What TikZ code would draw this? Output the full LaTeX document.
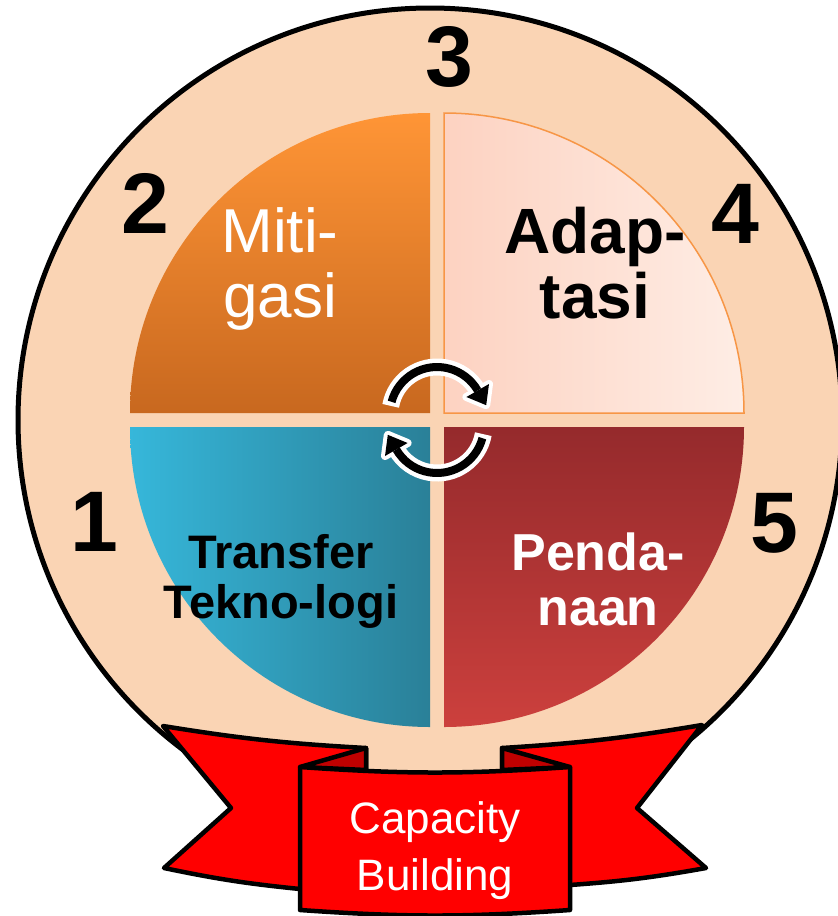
\documentclass[tikz,border=0pt]{standalone}
\usepackage{fontspec}
\setmainfont{Liberation Sans}
\usetikzlibrary{arrows.meta}
\definecolor{peach}{HTML}{FAD4B4}
\definecolor{mitTop}{HTML}{FF9536}
\definecolor{mitBot}{HTML}{C8681F}
\definecolor{adaL}{HTML}{FDD2C1}
\definecolor{adaR}{HTML}{FEEDE5}
\definecolor{adaLine}{HTML}{F79646}
\definecolor{tekL}{HTML}{36B7DA}
\definecolor{tekR}{HTML}{2A8098}
\definecolor{penTop}{HTML}{952A2C}
\definecolor{penBot}{HTML}{CC403D}
\definecolor{ribRed}{HTML}{FF0000}
\definecolor{ribDark}{HTML}{C00000}
\tikzset{
  numlbl/.style={inner sep=0pt, anchor=center, font=\fontsize{86}{90}\selectfont\bfseries},
  quadlbl/.style={inner sep=0pt, anchor=base},
  rib/.style={fill=ribRed, draw=black, line width=4.5pt, line join=round},
  fold/.style={fill=ribDark, draw=black, line width=4.5pt, line join=round},
  shaftw/.style={white, line width=17pt},
  shaftb/.style={black, line width=8pt},
  headw/.style={fill=white, draw=white, line width=8pt, line join=round},
  headb/.style={fill=black}
}
\begin{document}
\begin{tikzpicture}[x=1pt,y=-1pt]
\useasboundingbox (0,0) rectangle (838,916);
\fill[white] (0,0) rectangle (838,916);
% big circle
\draw[fill=peach, line width=5pt] (430,420) circle[radius=412];
% quadrants
\shade[top color=mitTop, bottom color=mitBot] (430,413) -- (130,413) arc[start angle=180, end angle=270, radius=300] -- cycle;
\draw[left color=adaL, right color=adaR, draw=adaLine, line width=1.5pt] (444,413) -- (444,113) arc[start angle=270, end angle=360, radius=300] -- cycle;
\shade[top color=penTop, bottom color=penBot] (444,427) -- (744,427) arc[start angle=0, end angle=90, radius=300] -- cycle;
\shade[left color=tekL, right color=tekR] (430,427) -- (430,727) arc[start angle=90, end angle=180, radius=300] -- cycle;
% cycle arrows (white underlay)
\draw[shaftw] (437,414) ++(190:47) arc[start angle=190, end angle=330, radius=47];
\draw[shaftw] (437,426) ++(10:47) arc[start angle=10, end angle=150, radius=47];
\path[headw] (489.0,384.0) -- (486.2,405.2) -- (466.4,397.0) -- cycle;
\path[headw] (385.0,456.0) -- (387.8,434.8) -- (407.6,443.0) -- cycle;
% cycle arrows (black)
\draw[shaftb] (437,414) ++(195:47) arc[start angle=195, end angle=330, radius=47];
\draw[shaftb] (437,426) ++(15:47) arc[start angle=15, end angle=150, radius=47];
\path[headb] (489.0,384.0) -- (486.2,405.2) -- (466.4,397.0) -- cycle;
\path[headb] (385.0,456.0) -- (387.8,434.8) -- (407.6,443.0) -- cycle;
% quadrant labels
\node[quadlbl, text=white, font=\fontsize{62}{65}\selectfont] (mit) at (280,252) {\begin{tabular}[t]{@{}c@{}}Miti-\\gasi\end{tabular}};
\node[quadlbl, text=black, font=\fontsize{64}{64}\selectfont\bfseries] (ada) at (595,253) {\begin{tabular}[t]{@{}c@{}}Adap-\\tasi\end{tabular}};
\node[quadlbl, text=black, font=\fontsize{47}{50}\selectfont\bfseries] (tek) at (281,568) {\begin{tabular}[t]{@{}c@{}}Transfer\\Tekno-logi\end{tabular}};
\node[quadlbl, text=white, font=\fontsize{52}{55}\selectfont\bfseries] (pen) at (598,570) {\begin{tabular}[t]{@{}c@{}}Penda-\\naan\end{tabular}};
% numbers
\node[numlbl] (n1) at (94,522) {1};
\node[numlbl] (n2) at (145,203) {2};
\node[numlbl] (n3) at (449,57) {3};
\node[numlbl] (n4) at (735,214) {4};
\node[numlbl] (n5) at (774,523) {5};
% ribbon wings
\path[rib] (163,726) to[bend right=3] (366,748) -- (366,800) -- (300,889) to[bend left=3] (164,868) -- (231,808) -- cycle;
\path[rib] (502,748) to[bend right=3] (702,725) -- (637,808) -- (706,868) to[bend left=3] (570,885) -- (502,800) -- cycle;
% folds
\path[fold] (300,767) -- (366,748) -- (366,770) -- cycle;
\path[fold] (570,767) -- (502,748) -- (502,770) -- cycle;
% panel
\path[rib] (300,767) to[bend right=4] (570,767) -- (570,910) to[bend left=4] (300,910) -- cycle;
\node[quadlbl, text=white, font=\fontsize{44}{57}\selectfont] (cap) at (435,833) {\begin{tabular}[t]{@{}c@{}}Capacity\\Building\end{tabular}};
\end{tikzpicture}
\end{document}
